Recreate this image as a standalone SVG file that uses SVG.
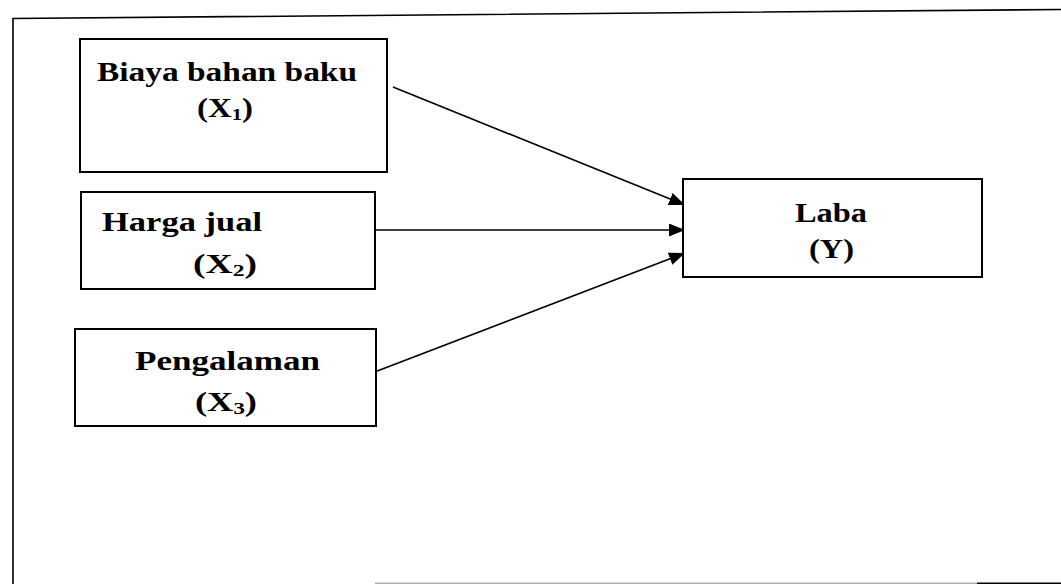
<svg xmlns="http://www.w3.org/2000/svg" width="1061" height="584" viewBox="0 0 1061 584">
  <defs>
    <style>
      .box { fill: #ffffff; stroke: #000000; stroke-width: 2; }
      .frame { fill: none; stroke: #000000; stroke-width: 1.6; }
      .lbl { font-family: "Liberation Serif", "Times New Roman", serif; font-weight: bold; font-size: 27px; fill: #000000; }
      .sub { font-size: 17px; }
      .link { fill: none; stroke: #000000; stroke-width: 1.6; marker-end: url(#head); }
    </style>
    <marker id="head" viewBox="0 0 16 13" refX="16" refY="6.5" markerWidth="16" markerHeight="13" markerUnits="userSpaceOnUse" orient="auto">
      <path d="M0,0 L16,6.5 L0,13 Z" fill="#000000"/>
    </marker>
  </defs>

  <rect width="1061" height="584" fill="#ffffff"/>

  <!-- outer frame -->
  <g id="frame">
    <path class="frame" d="M13,584 L13,18.5 L1061,9.5"/>
    <line x1="375" y1="583.3" x2="977" y2="583.3" stroke="#b0b0b0" stroke-width="1.4"/>
    <line x1="977" y1="583.3" x2="1061" y2="583.3" stroke="#000000" stroke-width="1.6"/>
  </g>

  <!-- connectors -->
  <g id="connectors">
    <line class="link" x1="393" y1="87" x2="685" y2="205"/>
    <line class="link" x1="372" y1="230" x2="685" y2="230"/>
    <line class="link" x1="372" y1="373" x2="685" y2="253"/>
  </g>

  <!-- independent variables -->
  <g id="node-x1">
    <rect class="box" x="80" y="39" width="307" height="133"/>
    <text class="lbl" x="97" y="81" textLength="260" lengthAdjust="spacingAndGlyphs">Biaya bahan baku</text>
    <text class="lbl" x="197" y="117" textLength="56" lengthAdjust="spacingAndGlyphs">(X<tspan class="sub" dy="3">1</tspan><tspan dy="-3">)</tspan></text>
  </g>

  <g id="node-x2">
    <rect class="box" x="81" y="192" width="294" height="97"/>
    <text class="lbl" x="102" y="231" textLength="160" lengthAdjust="spacingAndGlyphs">Harga jual</text>
    <text class="lbl" x="193" y="273" textLength="64" lengthAdjust="spacingAndGlyphs">(X<tspan class="sub" dy="3">2</tspan><tspan dy="-3">)</tspan></text>
  </g>

  <g id="node-x3">
    <rect class="box" x="75" y="329" width="301" height="97"/>
    <text class="lbl" x="135" y="370" textLength="185" lengthAdjust="spacingAndGlyphs">Pengalaman</text>
    <text class="lbl" x="195" y="411" textLength="62" lengthAdjust="spacingAndGlyphs">(X<tspan class="sub" dy="3">3</tspan><tspan dy="-3">)</tspan></text>
  </g>

  <!-- dependent variable -->
  <g id="node-y">
    <rect class="box" x="683" y="179" width="299" height="98"/>
    <text class="lbl" x="795" y="222" textLength="72" lengthAdjust="spacingAndGlyphs">Laba</text>
    <text class="lbl" x="809" y="258" textLength="45" lengthAdjust="spacingAndGlyphs">(Y)</text>
  </g>
</svg>
